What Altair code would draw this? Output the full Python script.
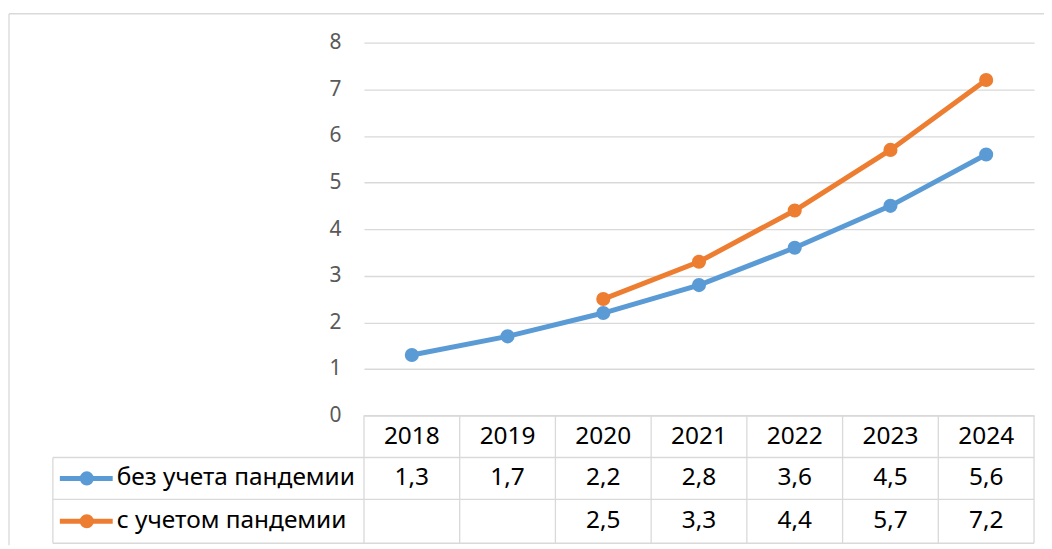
import altair as alt
import pandas as pd

years = [2018, 2019, 2020, 2021, 2022, 2023, 2024]
series_names = ["без учета пандемии", "с учетом пандемии"]
values_no_pandemic = [1.3, 1.7, 2.2, 2.8, 3.6, 4.5, 5.6]
values_pandemic = [None, None, 2.5, 3.3, 4.4, 5.7, 7.2]
colors = ["#5B9BD5", "#ED7D31"]
y_ticks = [0, 1, 2, 3, 4, 5, 6, 7, 8]

FONT = "Noto Sans"
W, H = 672, 374
GRID = "#D9D9D9"
FS = 24.5

rows = []
for si, (name, vals) in enumerate(zip(series_names, [values_no_pandemic, values_pandemic])):
    for yr, v in zip(years, vals):
        rows.append({
            "year": yr,
            "series": name,
            "value": v,
            "label": "" if v is None else f"{v:.1f}".replace(".", ","),
            "row": si,
        })
df = pd.DataFrame(rows)
df_pts = df.dropna(subset=["value"])

xscale = alt.Scale(domain=[years[0] - 0.5, years[-1] + 0.5], nice=False, zero=False)
yscale = alt.Scale(domain=[0, 8], nice=False)
cscale = alt.Scale(domain=series_names, range=colors)

X = alt.X("year:Q", scale=xscale, axis=None)
yaxis = alt.Axis(
    values=y_ticks, domain=False, ticks=False, labelFontSize=21,
    labelColor="#595959", labelPadding=23, grid=True, gridColor=GRID,
    gridWidth=1.3, title=None, labelFont=FONT)
Y = alt.Y("value:Q", scale=yscale, axis=yaxis)

line = alt.Chart(df_pts).mark_line(strokeWidth=5).encode(
    x=X, y=Y,
    color=alt.Color("series:N", scale=cscale, legend=None),
    detail="series:N",
)
points = alt.Chart(df_pts).mark_circle(size=200, opacity=1).encode(
    x=X, y=Y,
    color=alt.Color("series:N", scale=cscale, legend=None),
)

one = alt.Data(values=[{"a": 1}])
layers = [line, points]

# table header (years)
hdr = pd.DataFrame({"year": years, "txt": [str(y) for y in years]})
layers.append(alt.Chart(hdr).mark_text(fontSize=FS, font=FONT, color="#000000", baseline="middle").encode(
    x=X, y=alt.value(395), text="txt:N"))

row_y = [437, 480]
for i, name in enumerate(series_names):
    sub = df[df["row"] == i]
    layers.append(alt.Chart(sub).mark_text(fontSize=FS, font=FONT, color="#000000", baseline="middle").encode(
        x=X, y=alt.value(row_y[i]), text="label:N"))
    leg = pd.DataFrame({"series": [name]})
    layers.append(alt.Chart(leg).mark_rule(strokeWidth=5).encode(
        x=alt.value(-305), x2=alt.value(-252), y=alt.value(row_y[i]),
        color=alt.Color("series:N", scale=cscale, legend=None)))
    layers.append(alt.Chart(leg).mark_circle(size=200, opacity=1).encode(
        x=alt.value(-278), y=alt.value(row_y[i]),
        color=alt.Color("series:N", scale=cscale, legend=None)))
    layers.append(alt.Chart(leg).mark_text(fontSize=FS, font=FONT, color="#000000", align="left", baseline="middle").encode(
        x=alt.value(-248), y=alt.value(row_y[i]), text="series:N"))

# table grid lines
bounds = pd.DataFrame({"b": [y - 0.5 for y in years] + [years[-1] + 0.5]})
layers.append(alt.Chart(bounds).mark_rule(color=GRID, strokeWidth=1.3).encode(
    x=alt.X("b:Q", scale=xscale, axis=None), y=alt.value(374), y2=alt.value(502)))
layers.append(alt.Chart(one).mark_rule(color=GRID, strokeWidth=1.3).encode(
    x=alt.value(-312), y=alt.value(416), y2=alt.value(502)))
for yy in [416, 458, 502]:
    layers.append(alt.Chart(one).mark_rule(color=GRID, strokeWidth=1.3).encode(
        x=alt.value(-312), x2=alt.value(W), y=alt.value(yy)))
layers.append(alt.Chart(one).mark_rule(color=GRID, strokeWidth=1.3).encode(
    x=alt.value(0), x2=alt.value(W), y=alt.value(374)))

# outer chart border
layers.append(alt.Chart(one).mark_rule(color=GRID, strokeWidth=1.3).encode(
    x=alt.value(-356), x2=alt.value(W + 12), y=alt.value(-29)))
layers.append(alt.Chart(one).mark_rule(color=GRID, strokeWidth=1.3).encode(
    x=alt.value(-356), y=alt.value(-29), y2=alt.value(H + 130)))

chart = alt.layer(*layers).properties(
    width=W, height=H,
    autosize=alt.AutoSizeParams(type="none"),
    padding={"left": 357, "top": 34, "right": 10, "bottom": 130},
    background="white",
).configure(font=FONT).configure_view(strokeWidth=0)

chart.save("out.html", embed_options={"renderer": "svg", "actions": False})
